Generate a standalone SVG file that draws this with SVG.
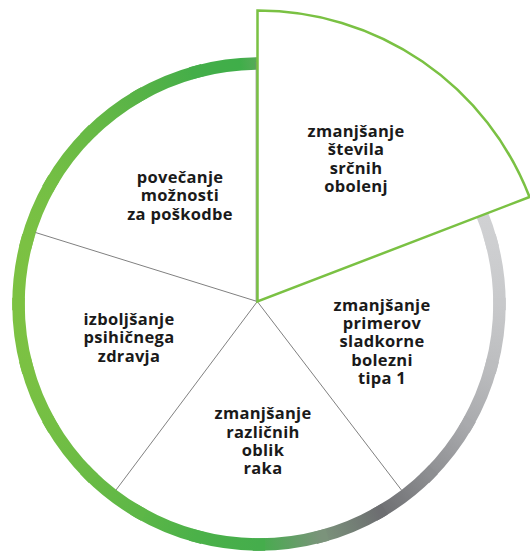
<svg xmlns="http://www.w3.org/2000/svg" width="530" height="552" viewBox="0 0 530 552">
<style>
.seg{fill:none;stroke-width:12.5;stroke-linecap:square}
.spoke{stroke:#808080;stroke-width:1;fill:none}
.lbl{font-family:"Open Sans","Liberation Sans",sans-serif;font-weight:700;font-size:16.5px;letter-spacing:0.3px;fill:#1a1a1a;text-anchor:middle}
.hl{fill:#ffffff;stroke:#7ac143;stroke-width:2.5;stroke-linejoin:miter}
</style>
<defs>
<linearGradient id="g1" gradientUnits="userSpaceOnUse" x1="467.28" y1="183.75" x2="491.30" y2="241.76"><stop offset="0" stop-color="#d2d3d5"/><stop offset="1" stop-color="#cecfd1"/></linearGradient>
<linearGradient id="g2" gradientUnits="userSpaceOnUse" x1="491.30" y1="241.76" x2="499.5" y2="304"><stop offset="0" stop-color="#cecfd1"/><stop offset="1" stop-color="#c8c9cb"/></linearGradient>
<linearGradient id="g3" gradientUnits="userSpaceOnUse" x1="499.5" y1="304" x2="491.30" y2="366.24"><stop offset="0" stop-color="#c8c9cb"/><stop offset="1" stop-color="#bcbdbf"/></linearGradient>
<linearGradient id="g4" gradientUnits="userSpaceOnUse" x1="491.30" y1="366.24" x2="467.28" y2="424.25"><stop offset="0" stop-color="#bcbdbf"/><stop offset="1" stop-color="#a9aaad"/></linearGradient>
<linearGradient id="g5" gradientUnits="userSpaceOnUse" x1="467.28" y1="424.25" x2="429.06" y2="474.06"><stop offset="0" stop-color="#a9aaad"/><stop offset="1" stop-color="#8d8e91"/></linearGradient>
<linearGradient id="g6" gradientUnits="userSpaceOnUse" x1="429.06" y1="474.06" x2="379.25" y2="512.28"><stop offset="0" stop-color="#8d8e91"/><stop offset="1" stop-color="#6d6e71"/></linearGradient>
<linearGradient id="g7" gradientUnits="userSpaceOnUse" x1="379.25" y1="512.28" x2="321.24" y2="536.30"><stop offset="0" stop-color="#6d6e71"/><stop offset="1" stop-color="#7b937b"/></linearGradient>
<linearGradient id="g8" gradientUnits="userSpaceOnUse" x1="321.24" y1="536.30" x2="259" y2="544.5"><stop offset="0" stop-color="#7b937b"/><stop offset="1" stop-color="#45ad4c"/></linearGradient>
<linearGradient id="g9" gradientUnits="userSpaceOnUse" x1="259" y1="544.5" x2="196.76" y2="536.30"><stop offset="0" stop-color="#45ad4c"/><stop offset="1" stop-color="#4bb149"/></linearGradient>
<linearGradient id="g10" gradientUnits="userSpaceOnUse" x1="196.76" y1="536.30" x2="138.75" y2="512.28"><stop offset="0" stop-color="#4bb149"/><stop offset="1" stop-color="#5db747"/></linearGradient>
<linearGradient id="g11" gradientUnits="userSpaceOnUse" x1="138.75" y1="512.28" x2="88.94" y2="474.06"><stop offset="0" stop-color="#5db747"/><stop offset="1" stop-color="#6abb45"/></linearGradient>
<linearGradient id="g12" gradientUnits="userSpaceOnUse" x1="88.94" y1="474.06" x2="50.72" y2="424.25"><stop offset="0" stop-color="#6abb45"/><stop offset="1" stop-color="#74bf44"/></linearGradient>
<linearGradient id="g13" gradientUnits="userSpaceOnUse" x1="50.72" y1="424.25" x2="26.70" y2="366.24"><stop offset="0" stop-color="#74bf44"/><stop offset="1" stop-color="#7bc143"/></linearGradient>
<linearGradient id="g14" gradientUnits="userSpaceOnUse" x1="26.70" y1="366.24" x2="18.5" y2="304"><stop offset="0" stop-color="#7bc143"/><stop offset="1" stop-color="#7dc242"/></linearGradient>
<linearGradient id="g15" gradientUnits="userSpaceOnUse" x1="18.5" y1="304" x2="26.70" y2="241.76"><stop offset="0" stop-color="#7dc242"/><stop offset="1" stop-color="#7bc143"/></linearGradient>
<linearGradient id="g16" gradientUnits="userSpaceOnUse" x1="26.70" y1="241.76" x2="50.72" y2="183.75"><stop offset="0" stop-color="#7bc143"/><stop offset="1" stop-color="#74bf44"/></linearGradient>
<linearGradient id="g17" gradientUnits="userSpaceOnUse" x1="50.72" y1="183.75" x2="88.94" y2="133.94"><stop offset="0" stop-color="#74bf44"/><stop offset="1" stop-color="#68ba45"/></linearGradient>
<linearGradient id="g18" gradientUnits="userSpaceOnUse" x1="88.94" y1="133.94" x2="138.75" y2="95.72"><stop offset="0" stop-color="#68ba45"/><stop offset="1" stop-color="#58b347"/></linearGradient>
<linearGradient id="g19" gradientUnits="userSpaceOnUse" x1="138.75" y1="95.72" x2="196.76" y2="71.70"><stop offset="0" stop-color="#58b347"/><stop offset="1" stop-color="#44ae49"/></linearGradient>
<linearGradient id="g20" gradientUnits="userSpaceOnUse" x1="196.76" y1="71.70" x2="259" y2="63.5"><stop offset="0" stop-color="#44ae49"/><stop offset="0.7" stop-color="#3fae49"/><stop offset="1" stop-color="#5aaa5a"/></linearGradient>
</defs>

<g id="ring">
<path class="seg" stroke="url(#g1)" d="M467.28 183.75A240.5 240.5 0 0 1 491.30 241.76"/>
<path class="seg" stroke="url(#g2)" d="M491.30 241.76A240.5 240.5 0 0 1 499.5 304"/>
<path class="seg" stroke="url(#g3)" d="M499.5 304A240.5 240.5 0 0 1 491.30 366.24"/>
<path class="seg" stroke="url(#g4)" d="M491.30 366.24A240.5 240.5 0 0 1 467.28 424.25"/>
<path class="seg" stroke="url(#g5)" d="M467.28 424.25A240.5 240.5 0 0 1 429.06 474.06"/>
<path class="seg" stroke="url(#g6)" d="M429.06 474.06A240.5 240.5 0 0 1 379.25 512.28"/>
<path class="seg" stroke="url(#g7)" d="M379.25 512.28A240.5 240.5 0 0 1 321.24 536.30"/>
<path class="seg" stroke="url(#g8)" d="M321.24 536.30A240.5 240.5 0 0 1 259 544.5"/>
<path class="seg" stroke="url(#g9)" d="M259 544.5A240.5 240.5 0 0 1 196.76 536.30"/>
<path class="seg" stroke="url(#g10)" d="M196.76 536.30A240.5 240.5 0 0 1 138.75 512.28"/>
<path class="seg" stroke="url(#g11)" d="M138.75 512.28A240.5 240.5 0 0 1 88.94 474.06"/>
<path class="seg" stroke="url(#g12)" d="M88.94 474.06A240.5 240.5 0 0 1 50.72 424.25"/>
<path class="seg" stroke="url(#g13)" d="M50.72 424.25A240.5 240.5 0 0 1 26.70 366.24"/>
<path class="seg" stroke="url(#g14)" d="M26.70 366.24A240.5 240.5 0 0 1 18.5 304"/>
<path class="seg" stroke="url(#g15)" d="M18.5 304A240.5 240.5 0 0 1 26.70 241.76"/>
<path class="seg" stroke="url(#g16)" d="M26.70 241.76A240.5 240.5 0 0 1 50.72 183.75"/>
<path class="seg" stroke="url(#g17)" d="M50.72 183.75A240.5 240.5 0 0 1 88.94 133.94"/>
<path class="seg" stroke="url(#g18)" d="M88.94 133.94A240.5 240.5 0 0 1 138.75 95.72"/>
<path class="seg" stroke="url(#g19)" d="M138.75 95.72A240.5 240.5 0 0 1 196.76 71.70"/>
<path class="seg" stroke="url(#g20)" d="M196.76 71.70A240.5 240.5 0 0 1 259 63.5"/>
</g>

<g id="connectors">
<line class="spoke" x1="257.3" y1="301.5" x2="35.5" y2="232.5"/>
<line class="spoke" x1="257.3" y1="301.5" x2="116" y2="490"/>
<line class="spoke" x1="257.3" y1="301.5" x2="401.8" y2="490.5"/>
<line class="spoke" x1="256.2" y1="301.5" x2="256.2" y2="62"/>
</g>

<g id="node-srcna-obolenja">
<path class="hl" d="M257.5 301.5L257.5 10.6A291 291 0 0 1 529.5 197Z"/>
<text class="lbl"><tspan x="356" y="137">zmanjšanje</tspan><tspan x="356" y="155.3">števila</tspan><tspan x="356" y="173.6">srčnih</tspan><tspan x="356" y="191.9">obolenj</tspan></text>
</g>

<g id="node-sladkorna">
<text class="lbl"><tspan x="382" y="310.7">zmanjšanje</tspan><tspan x="382" y="329">primerov</tspan><tspan x="382" y="347.3">sladkorne</tspan><tspan x="382" y="365.6">bolezni</tspan><tspan x="382" y="383.9">tipa 1</tspan></text>
</g>

<g id="node-rak">
<text class="lbl"><tspan x="263" y="419.3">zmanjšanje</tspan><tspan x="263" y="437.6">različnih</tspan><tspan x="263" y="455.9">oblik</tspan><tspan x="263" y="474.2">raka</tspan></text>
</g>

<g id="node-dusevno-zdravje">
<text class="lbl"><tspan x="129" y="325">izboljšanje</tspan><tspan x="129" y="343.3">psihičnega</tspan><tspan x="129" y="361.6">zdravja</tspan></text>
</g>

<g id="node-poskodbe">
<text class="lbl"><tspan x="180" y="183">povečanje</tspan><tspan x="180" y="201.3">možnosti</tspan><tspan x="180" y="219.6">za poškodbe</tspan></text>
</g>
</svg>
